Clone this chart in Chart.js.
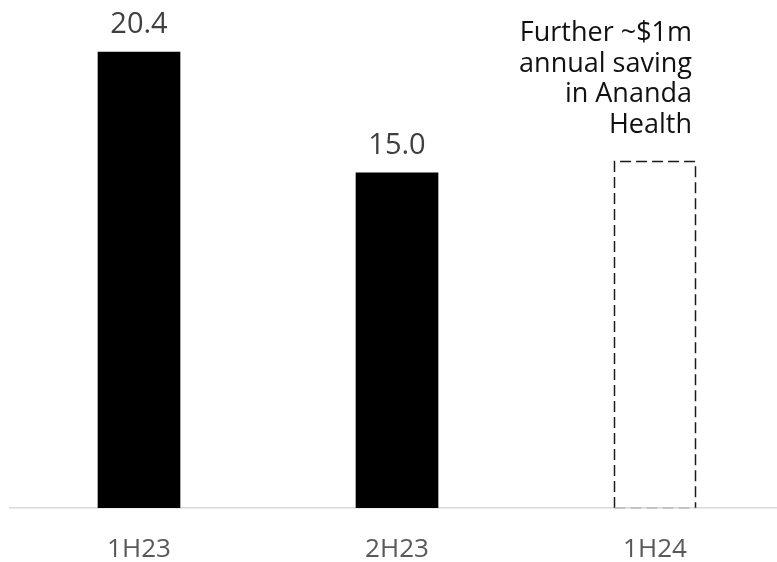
<!DOCTYPE html>
<html>
<head>
<meta charset="utf-8">
<script src="https://cdn.jsdelivr.net/npm/chart.js@4"></script>
<style>
  html, body { margin: 0; padding: 0; background: #ffffff; overflow: hidden; }
  #wrap { width: 784px; height: 562px; }
</style>
</head>
<body>
<div id="wrap"><canvas id="chart" width="784" height="562"></canvas></div>
<script>
// Half-year periods and values ($m)
const categories = ['1H23', '2H23', '1H24'];
const values = [20.4, 15.0, 15.5];
// Which bars are actuals (solid, labelled) and which is a projection (dashed outline)
const isProjection = [false, false, true];
const valueLabels = ['20.4', '15.0', ''];
const noteLines = ['Further ~$1m', 'annual saving', 'in Ananda', 'Health'];

const FONT = "'Open Sans', 'DejaVu Sans', sans-serif";

// Labels above the solid bars, dashed outline and note for the projected bar
const barDecor = {
  id: 'barDecor',
  afterDatasetsDraw(chart) {
    const ctx = chart.ctx;
    const meta = chart.getDatasetMeta(0);
    meta.data.forEach((bar, i) => {
      const p = bar.getProps(['x', 'y', 'base', 'width'], true);
      const left = p.x - p.width / 2;
      const right = p.x + p.width / 2;
      if (!isProjection[i]) {
        ctx.save();
        ctx.font = '29px ' + FONT;
        ctx.fillStyle = '#404040';
        ctx.textAlign = 'center';
        ctx.textBaseline = 'alphabetic';
        ctx.fillText(valueLabels[i], p.x, p.y - 19);
        ctx.restore();
      } else {
        ctx.save();
        ctx.lineWidth = 1.5;
        ctx.setLineDash([11, 5]);
        ctx.strokeStyle = '#1a1a1a';
        ctx.beginPath();
        ctx.moveTo(left + 0.5, p.base);
        ctx.lineTo(left + 0.5, p.y);
        ctx.lineTo(right - 0.5, p.y);
        ctx.lineTo(right - 0.5, p.base);
        ctx.stroke();
        ctx.strokeStyle = '#bdbdbd';
        ctx.beginPath();
        ctx.moveTo(left + 0.5, p.base);
        ctx.lineTo(right - 0.5, p.base);
        ctx.stroke();
        ctx.restore();

        ctx.save();
        ctx.font = '27px ' + FONT;
        ctx.fillStyle = '#111111';
        ctx.textAlign = 'right';
        ctx.textBaseline = 'alphabetic';
        const lineH = 30.5;
        const lastBase = p.y - 29;
        noteLines.forEach((t, k) => {
          ctx.fillText(t, right - 4, lastBase - (noteLines.length - 1 - k) * lineH);
        });
        ctx.restore();
      }
    });
  }
};

new Chart(document.getElementById('chart'), {
  type: 'bar',
  data: {
    labels: categories,
    datasets: [{
      data: values,
      backgroundColor: isProjection.map(p => p ? 'rgba(0,0,0,0)' : '#000000'),
      borderWidth: 0,
      barThickness: 82
    }]
  },
  options: {
    responsive: false,
    animation: false,
    layout: { padding: { left: 10, right: 0, top: 0, bottom: 0 } },
    plugins: {
      legend: { display: false },
      tooltip: { enabled: false }
    },
    scales: {
      x: {
        grid: { display: false, drawTicks: false },
        border: { display: true, color: '#d9d9d9', width: 1.5 },
        ticks: {
          color: '#595959',
          font: { family: FONT, size: 26 },
          padding: 26
        },
        afterFit(scale) { scale.height = 54; }
      },
      y: {
        display: false,
        min: 0,
        max: 22.73
      }
    }
  },
  plugins: [barDecor]
});
</script>
</body>
</html>
